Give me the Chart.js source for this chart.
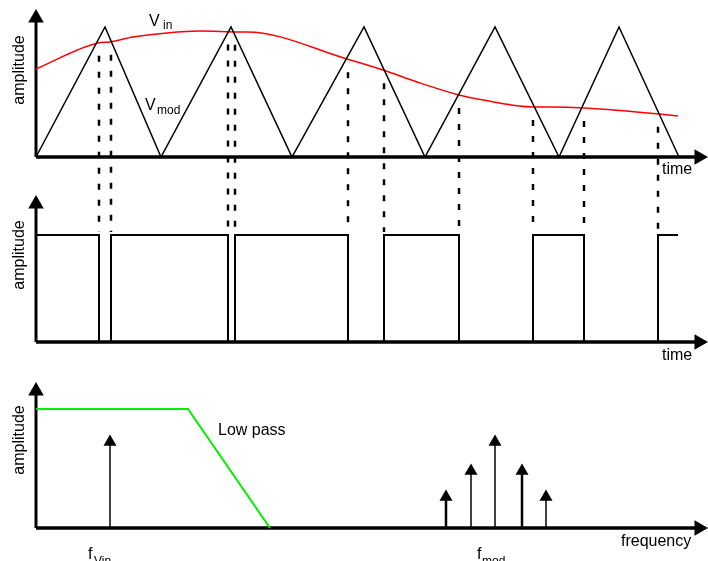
<!DOCTYPE html>
<html>
<head>
<meta charset="utf-8">
<script src="https://cdn.jsdelivr.net/npm/chart.js@4/dist/chart.umd.min.js"></script>
<style>
  html, body { margin: 0; padding: 0; background: #fff; }
  #wrap { width: 708px; height: 561px; }
</style>
</head>
<body>
<div id="wrap"><canvas id="pwm" width="708" height="561"></canvas></div>
<script>
// carrier (triangle) V_mod
const modT = [0, 69, 125, 195, 256, 328, 389, 459, 523, 583, 643];
const modA = [0, 1, 0, 1, 0, 1, 0, 1, 0, 1, 0];

// input signal V_in
const vinT = [0, 62, 74, 97, 131, 164, 204, 211, 311, 347, 381, 423, 447, 497, 514, 549, 623, 642];
const vinA = [0.677, 0.877, 0.885, 0.923, 0.954, 0.969, 0.962, 0.962, 0.754, 0.669, 0.577, 0.477, 0.438, 0.385, 0.385, 0.377, 0.331, 0.315];

// PWM output switching instants (starts high) and crossing levels
const edgeT = [63, 75, 192, 199, 312, 348, 423, 497, 548, 622];
const edgeLevel = [0.878, 0.886, 0.965, 0.963, 0.752, 0.667, 0.477, 0.385, 0.377, 0.332];
const pulseEnd = 642;

// spectrum
const lowPassF = [0, 152, 234];
const lowPassA = [1, 1, 0];
const toneF = [74, 410, 435, 459, 486, 510];
const toneA = [0.723, 0.26, 0.479, 0.723, 0.479, 0.26];
const toneW = [1.5, 2.5, 1.5, 1.5, 2.5, 1.5];

const W = 708, H = 561, ORIGIN = 36;

// map amplitude 0 / 1 to given pixel rows so three panels share one canvas
function band(zeroPx, onePx) {
    const u = zeroPx - onePx;
    return { min: -(H - zeroPx) / u, max: zeroPx / u };
}
const b1 = band(157, 27), b2 = band(342, 235), b3 = band(528, 409);

const pts = (xs, ys) => xs.map((x, i) => ({ x: x, y: ys[i] }));

const pulse = [{ x: 0, y: 1 }];
edgeT.forEach((t, i) => pulse.push({ x: t, y: i % 2 === 0 ? 0 : 1 }));
pulse.push({ x: pulseEnd, y: 1 });

const lineDs = (data, color, width, yAxisID, xAxisID, extra) => Object.assign({
    data: data, borderColor: color, backgroundColor: color, borderWidth: width,
    pointRadius: 0, tension: 0, showLine: true, fill: false, clip: false,
    xAxisID: xAxisID || 'x', yAxisID: yAxisID
}, extra || {});

const arrowDs = (data, yAxisID, xAxisID, rot, w, r) => lineDs(data, '#000', w, yAxisID, xAxisID, {
    pointRadius: [0, r], pointStyle: 'triangle', pointRotation: rot,
    pointBorderWidth: 0, pointBackgroundColor: '#000'
});

const datasets = [
    // panel 1
    lineDs(pts(modT, modA), '#000', 1.5, 'y1'),
    lineDs(pts(vinT, vinA), '#ff0000', 1.5, 'y1', 'x', { cubicInterpolationMode: 'monotone' }),
    arrowDs([{ x: 0, y: 0 }, { x: 0, y: 1.069 }], 'y1', 'x', 0, 3, 9),
    arrowDs([{ x: 0, y: 0 }, { x: 663, y: 0 }], 'y1', 'x', 90, 3.5, 9),
    // panel 2
    lineDs(pulse, '#000', 2, 'y2', 'x', { stepped: true }),
    arrowDs([{ x: 0, y: 0 }, { x: 0, y: 1.29 }], 'y2', 'x', 0, 3, 9),
    arrowDs([{ x: 0, y: 0 }, { x: 663, y: 0 }], 'y2', 'x', 90, 3.5, 9),
    // panel 3
    lineDs(pts(lowPassF, lowPassA), '#00ee00', 2, 'y3', 'xf'),
    arrowDs([{ x: 0, y: 0 }, { x: 0, y: 1.151 }], 'y3', 'xf', 0, 3, 9),
    arrowDs([{ x: 0, y: 0 }, { x: 663, y: 0 }], 'y3', 'xf', 90, 3.5, 9)
];
toneF.forEach((f, i) => datasets.push(
    arrowDs([{ x: f, y: 0 }, { x: f, y: toneA[i] }], 'y3', 'xf', 0, toneW[i], 7.5)
));

const labelsPlugin = {
    id: 'labels',
    beforeDraw(chart) {
        const c = chart.ctx;
        c.save();
        c.fillStyle = '#fff';
        c.fillRect(0, 0, chart.width, chart.height);
        c.restore();
    },
    afterDatasetsDraw(chart) {
        const c = chart.ctx, s = chart.scales;
        c.save();
        // dashed projection lines from crossings down to the pulse train
        c.strokeStyle = '#000';
        c.lineWidth = 2.5;
        c.setLineDash([6, 10]);
        edgeT.forEach((t, i) => {
            const x = Math.round(s.x.getPixelForValue(t));
            c.beginPath();
            c.moveTo(x, s.y1.getPixelForValue(edgeLevel[i]) + 13);
            c.lineTo(x, s.y2.getPixelForValue(1) - 3);
            c.stroke();
        });
        c.setLineDash([]);

        c.fillStyle = '#000';
        c.textBaseline = 'alphabetic';
        const F = '"Liberation Sans", Arial, sans-serif';
        const txt = (t, x, y, size) => { c.font = size + 'px ' + F; c.fillText(t, x, y); };

        // rotated axis titles
        [70, 255, 440].forEach(cy => {
            c.save();
            c.translate(24, cy);
            c.rotate(-Math.PI / 2);
            c.textAlign = 'center';
            c.font = '16px ' + F;
            c.fillText('amplitude', 0, 0);
            c.restore();
        });

        txt('V', 149, 26, 16);
        txt('in', 163, 29, 12);
        txt('V', 145, 110, 16);
        txt('mod', 157, 114, 12);
        txt('time', 662, 174, 16);
        txt('time', 662, 360, 16);
        txt('Low pass', 218, 435, 16);
        txt('frequency', 621, 546, 16);
        txt('f', 88, 559, 16);
        txt('Vin', 94, 565, 12);
        txt('f', 477, 559, 16);
        txt('mod', 482, 565, 12);
        c.restore();
    }
};

new Chart(document.getElementById('pwm'), {
    type: 'scatter',
    data: { datasets: datasets },
    options: {
        responsive: false,
        animation: false,
        events: [],
        layout: { padding: 0, autoPadding: false },
        plugins: { legend: { display: false }, tooltip: { enabled: false } },
        scales: {
            x: { type: 'linear', display: false, min: -ORIGIN, max: W - ORIGIN },
            xf: { type: 'linear', display: false, min: -ORIGIN, max: W - ORIGIN },
            y1: { type: 'linear', display: false, min: b1.min, max: b1.max },
            y2: { type: 'linear', display: false, min: b2.min, max: b2.max },
            y3: { type: 'linear', display: false, min: b3.min, max: b3.max }
        }
    },
    plugins: [labelsPlugin]
});
</script>
</body>
</html>
